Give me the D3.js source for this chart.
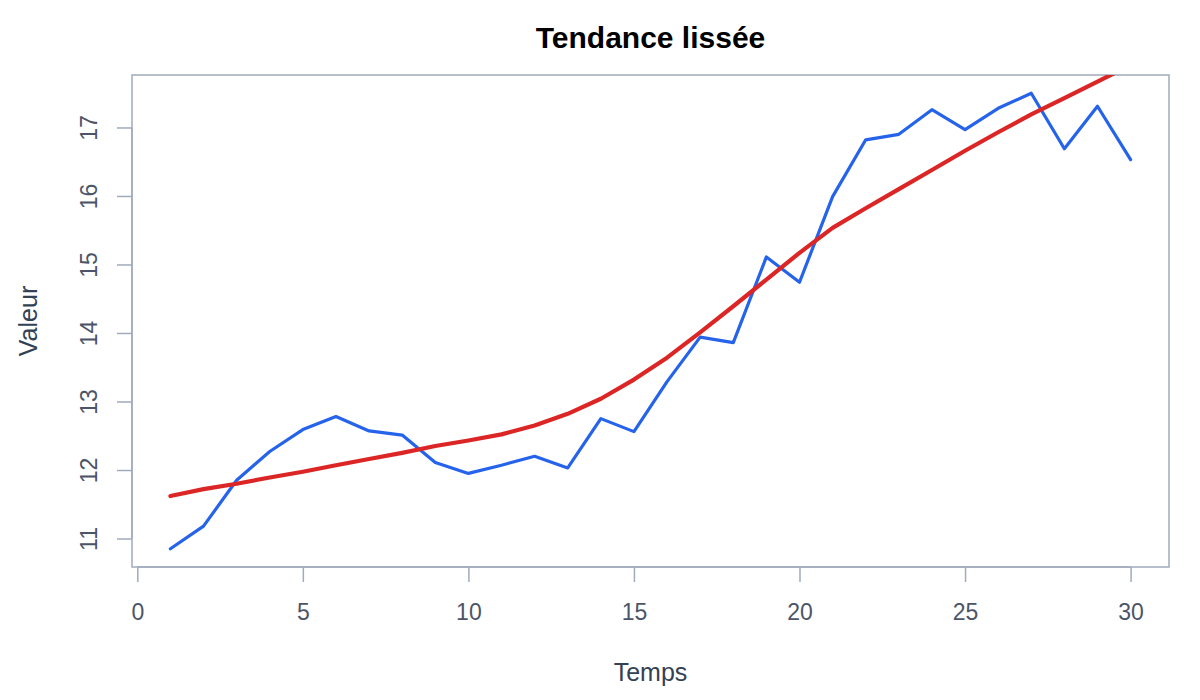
<!DOCTYPE html>
<html><head><meta charset="utf-8">
<script src="https://cdn.jsdelivr.net/npm/d3@7"></script>
<style>body{margin:0;background:#fff;}svg{display:block;font-family:"Liberation Sans",Arial,Helvetica,sans-serif;}</style>
</head><body>
<svg id="chart" width="1200" height="700"></svg>
<script>
const temps = [1,2,3,4,5,6,7,8,9,10,11,12,13,14,15,16,17,18,19,20,21,22,23,24,25,26,27,28,29,30];
const valeurs = [10.85,11.18,11.85,12.27,12.59,12.78,12.57,12.51,12.11,11.95,12.07,12.20,12.03,12.75,12.56,13.29,13.94,13.86,15.11,14.74,15.99,16.82,16.90,17.26,16.97,17.28,17.50,16.69,17.31,16.53];
const lisse = [11.62,11.72,11.80,11.89,11.975,12.07,12.16,12.25,12.35,12.43,12.52,12.65,12.82,13.04,13.32,13.64,14.01,14.39,14.78,15.17,15.535,15.82,16.10,16.38,16.66,16.93,17.19,17.43,17.67,17.91];
const xTicks = [0,5,10,15,20,25,30];
const yTicks = [11,12,13,14,15,16,17];
const titre = "Tendance lissée", xLabel = "Temps", yLabel = "Valeur";

const svg = d3.select("#chart");
const L = 132, R = 1169, T = 75, B = 567;
const ext = (a) => { const [lo, hi] = d3.extent(a); const p = (hi - lo) * 0.04; return [lo - p, hi + p]; };
const x = d3.scaleLinear().domain(ext(temps)).range([L, R]);
const y = d3.scaleLinear().domain(ext(valeurs)).range([B, T]);
const axisCol = "#a0abbd", tickText = "#4b5567";

svg.append("defs").append("clipPath").attr("id","clip")
  .append("rect").attr("x",L).attr("y",T).attr("width",R-L).attr("height",B-T);

// x axis
const gx = svg.append("g").attr("transform",`translate(0,${B})`)
  .call(d3.axisBottom(x).tickValues(xTicks).tickSize(15).tickPadding(22).tickSizeOuter(0));
gx.select(".domain").attr("stroke",axisCol).attr("stroke-width",1.5)
  .attr("d",`M${x(0)},0H${x(30)}`);
gx.selectAll(".tick line").attr("stroke",axisCol).attr("stroke-width",1.5);
gx.selectAll(".tick text").attr("fill",tickText).attr("font-size",23).attr("font-family","Liberation Sans, Arial, sans-serif");

// y axis
const gy = svg.append("g").attr("transform",`translate(${L},0)`)
  .call(d3.axisLeft(y).tickValues(yTicks).tickSize(15).tickSizeOuter(0));
gy.select(".domain").attr("stroke",axisCol).attr("stroke-width",1.5)
  .attr("d",`M0,${y(11)}V${y(17)}`);
gy.selectAll(".tick line").attr("stroke",axisCol).attr("stroke-width",1.5);
gy.selectAll(".tick text").attr("fill",tickText).attr("font-size",23).attr("font-family","Liberation Sans, Arial, sans-serif")
  .attr("x",null).attr("dy",null).attr("text-anchor","middle")
  .attr("transform","translate(-35,0) rotate(-90)");

// box
svg.append("rect").attr("x",L).attr("y",T).attr("width",R-L).attr("height",B-T)
  .attr("fill","none").attr("stroke",axisCol).attr("stroke-width",1.5);

const line = d3.line().x((d,i)=>x(temps[i])).y(d=>y(d));
const g = svg.append("g").attr("clip-path","url(#clip)");
g.append("path").datum(valeurs).attr("d",line).attr("fill","none")
  .attr("stroke","#2563eb").attr("stroke-width",3.2).attr("stroke-linejoin","round").attr("stroke-linecap","round");
g.append("path").datum(lisse).attr("d",line).attr("fill","none")
  .attr("stroke","#dc2626").attr("stroke-width",4.2).attr("stroke-linejoin","round").attr("stroke-linecap","round");

svg.append("text").attr("x",(L+R)/2).attr("y",48).attr("text-anchor","middle")
  .attr("font-weight","bold").attr("font-size",30).attr("fill","#000").text(titre);
svg.append("text").attr("x",(L+R)/2).attr("y",681).attr("text-anchor","middle")
  .attr("font-size",25).attr("fill","#334155").text(xLabel);
svg.append("text").attr("transform",`translate(37,${(T+B)/2}) rotate(-90)`).attr("text-anchor","middle")
  .attr("font-size",25).attr("fill","#334155").text(yLabel);
</script>
</body></html>
